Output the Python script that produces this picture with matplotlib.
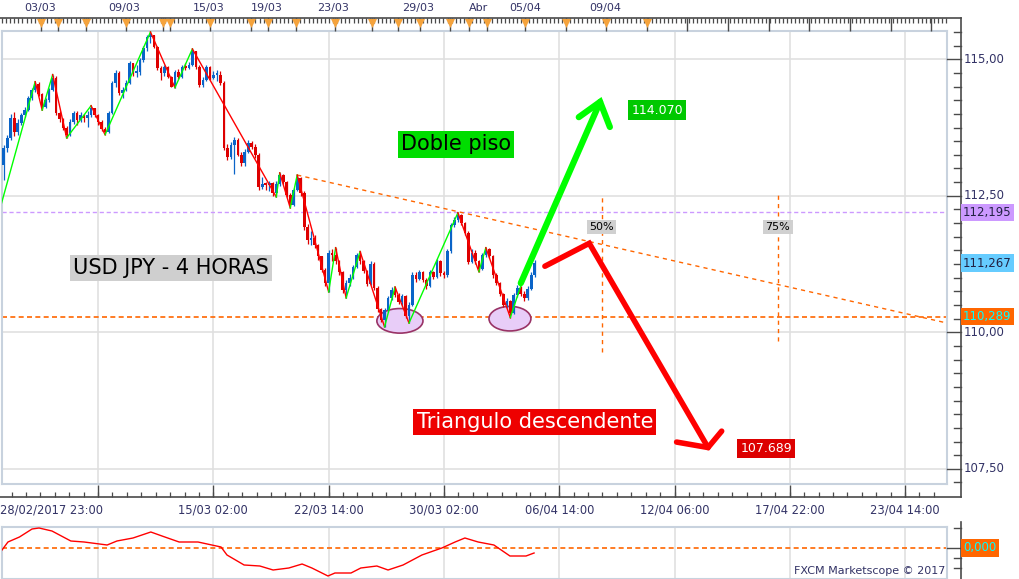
"""
USD/JPY 4H chart with double-bottom / descending-triangle annotations,
drawn in the style of a Marketscope screenshot.
"""
import matplotlib
matplotlib.use("Agg")
import matplotlib.pyplot as plt
import matplotlib.transforms as mtransforms
from matplotlib.patches import Ellipse
import numpy as np

W, H = 1019, 579
NAVY = "#333366"
BLUE = "#0a64c8"
RED = "#dd0000"
ORANGE = "#ff6600"
PURPLE = "#cc99ff"

# ---- candles (4h, index 0 = 28/02 23:00) ----
OPEN0 = 113.07
CLOSE = [113.38, 113.56, 113.93, 113.66, 113.84, 113.98, 114.08, 114.29, 114.44, 114.55,
         114.37, 114.12, 114.25, 114.44, 114.66, 114.02, 113.90, 113.75, 113.62, 113.85,
         114.02, 113.88, 113.98, 113.92, 113.98, 114.10, 113.98, 113.85, 113.72, 113.66,
         114.02, 114.57, 114.75, 114.39, 114.44, 114.57, 114.93, 114.75, 114.77, 114.99,
         115.21, 115.41, 115.45, 115.23, 114.84, 114.74, 114.86, 114.68, 114.49, 114.77,
         114.68, 114.86, 114.84, 114.90, 115.15, 114.86, 114.53, 114.62, 114.86, 114.66,
         114.72, 114.72, 114.57, 113.38, 113.21, 113.43, 113.53, 113.25, 113.10, 113.30,
         113.47, 113.40, 113.25, 112.66, 112.72, 112.70, 112.74, 112.55, 112.72, 112.88,
         112.76, 112.52, 112.34, 112.60, 112.82, 112.55, 111.93, 111.69, 111.72, 111.60,
         111.40, 111.14, 110.90, 111.46, 111.42, 111.30, 111.10, 110.78, 110.90, 111.00,
         111.20, 111.42, 111.30, 111.12, 110.88, 111.25, 110.82, 110.42, 110.22, 110.40,
         110.62, 110.78, 110.68, 110.56, 110.66, 110.30, 110.50, 111.05, 110.98, 111.10,
         110.96, 110.85, 111.10, 111.02, 111.30, 111.08, 111.05, 111.48, 111.96, 112.06,
         112.15, 112.00, 111.82, 111.29, 111.46, 111.30, 111.16, 111.42, 111.52, 111.40,
         111.05, 110.90, 110.70, 110.50, 110.58, 110.35, 110.69, 110.82, 110.70, 110.62,
         110.80, 111.05, 111.27]
HIGH = [113.43, 113.62, 114.00, 114.04, 113.90, 114.02, 114.12, 114.33, 114.48, 114.59,
        114.58, 114.38, 114.30, 114.48, 114.72, 114.70, 114.05, 113.93, 113.78, 113.90,
        114.06, 114.05, 114.03, 114.00, 114.05, 114.15, 114.10, 114.00, 113.88, 113.76,
        114.05, 114.60, 114.80, 114.78, 114.50, 114.62, 114.97, 114.92, 114.90, 115.03,
        115.25, 115.45, 115.50, 115.45, 115.25, 114.88, 114.90, 114.88, 114.70, 114.80,
        114.82, 114.90, 114.94, 114.95, 115.19, 115.10, 114.90, 114.68, 114.90, 114.88,
        114.78, 114.80, 114.78, 114.60, 113.45, 113.48, 113.58, 113.55, 113.30, 113.35,
        113.52, 113.50, 113.45, 113.28, 112.85, 112.76, 112.78, 112.76, 112.78, 112.92,
        112.90, 112.78, 112.55, 112.64, 112.88, 112.84, 112.58, 111.98, 111.85, 111.78,
        111.62, 111.40, 111.18, 111.50, 111.52, 111.55, 111.32, 111.12, 110.96, 111.06,
        111.24, 111.45, 111.48, 111.32, 111.14, 111.30, 111.28, 110.85, 110.44, 110.45,
        110.66, 110.83, 110.83, 110.72, 110.70, 110.68, 110.55, 111.10, 111.10, 111.14,
        111.12, 111.00, 111.14, 111.12, 111.34, 111.33, 111.12, 111.52, 112.00, 112.12,
        112.19, 112.16, 112.02, 111.85, 111.52, 111.50, 111.33, 111.46, 111.55, 111.54,
        111.42, 111.08, 110.92, 110.72, 110.62, 110.60, 110.72, 110.86, 110.85, 110.75,
        110.84, 111.10, 111.32]
LOW = [112.79, 113.30, 113.52, 113.60, 113.62, 113.80, 113.95, 114.05, 114.25, 114.40,
       114.33, 114.07, 114.10, 114.22, 114.42, 113.98, 113.85, 113.70, 113.56, 113.60,
       113.82, 113.80, 113.85, 113.86, 113.76, 113.95, 113.94, 113.80, 113.68, 113.62,
       113.65, 114.00, 114.50, 114.35, 114.30, 114.42, 114.55, 114.70, 114.68, 114.72,
       114.95, 115.15, 115.30, 115.20, 114.80, 114.62, 114.70, 114.65, 114.52, 114.48,
       114.64, 114.66, 114.80, 114.82, 114.88, 114.82, 114.50, 114.50, 114.60, 114.62,
       114.64, 114.60, 114.52, 113.33, 113.15, 113.18, 112.90, 113.22, 113.05, 113.05,
       113.28, 113.36, 113.20, 112.60, 112.62, 112.60, 112.58, 112.50, 112.48, 112.68,
       112.72, 112.48, 112.28, 112.32, 112.58, 112.50, 111.88, 111.62, 111.60, 111.55,
       111.33, 111.10, 110.85, 110.74, 111.30, 111.25, 111.05, 110.72, 110.63, 110.85,
       110.98, 111.18, 111.26, 111.08, 110.85, 110.86, 110.78, 110.38, 110.18, 110.10,
       110.38, 110.60, 110.64, 110.52, 110.48, 110.26, 110.17, 110.48, 110.92, 110.95,
       110.92, 110.80, 110.83, 110.98, 111.00, 111.04, 111.00, 111.02, 111.45, 111.92,
       112.02, 111.96, 111.78, 111.25, 111.27, 111.25, 111.11, 111.14, 111.38, 111.36,
       111.00, 110.86, 110.66, 110.46, 110.45, 110.27, 110.33, 110.65, 110.66, 110.58,
       110.60, 110.78, 111.02]

# zigzag swing points (candle index, price)
ZZ_IDX = [-1, 9, 11, 14, 18, 25, 29, 42, 49, 54, 78, 79, 82, 84, 93, 95, 98, 102,
          109, 112, 116, 130, 136, 138, 145, 148]
ZZ_PRICE = [112.28, 114.59, 114.07, 114.72, 113.56, 114.15, 113.62, 115.50, 114.48,
            115.19, 112.48, 112.92, 112.28, 112.88, 110.74, 111.55, 110.63, 111.48,
            110.10, 110.83, 110.17, 112.19, 111.11, 111.55, 110.27, 110.85]

# oscillator panel
IND_IDX = [-0.5, 1.2, 4.5, 8.1, 10.1, 13.8, 19.2, 23.0, 29.6, 32.4, 37.0, 42.1, 45.3,
           50.2, 55.6, 62.2, 63.9, 68.8, 73.3, 77.1, 81.6, 85.4, 88.2, 92.8, 94.8,
           99.4, 102.2, 106.8, 110.0, 114.3, 119.7, 125.4, 129.2, 132.0, 135.8,
           140.3, 144.9, 149.5, 151.8]
IND_VAL = [-0.2, 0.6, 1.1, 1.9, 2.0, 1.7, 0.7, 0.6, 0.3, 0.7, 1.0, 1.6, 1.2, 0.6, 0.6,
           0.1, -0.7, -1.7, -1.8, -2.2, -2.0, -1.6, -2.0, -2.8, -2.5, -2.5, -2.0, -1.8,
           -2.2, -1.7, -0.7, 0.0, 0.6, 1.0, 0.6, 0.3, -0.8, -0.8, -0.5]

# levels and drawings
RESIST = 112.195
SUPPORT = 110.289
LAST = 111.267
TREND_IDX = [84, 270]
TREND_PRICE = [112.88, 110.17]
FIB_IDX = [171.2, 221.6]
FIB_LOW = [109.64, 109.84]
FIB_LABELS = ["50%", "75%"]
GREEN_ARROW_IDX = [148.0, 170.7]
GREEN_ARROW_PRICE = [110.90, 114.22]
GREEN_HEAD_IDX = [164.6, 170.7, 173.5]
GREEN_HEAD_PRICE = [113.94, 114.22, 113.76]
RED_ARROW_IDX = [154.9, 167.6, 201.6]
RED_ARROW_PRICE = [111.21, 111.63, 107.89]
RED_HEAD_IDX = [192.6, 201.6, 205.5]
RED_HEAD_PRICE = [107.99, 107.89, 108.19]
BOTTOMS_IDX = [113.4, 144.9]
BOTTOMS_PRICE = [110.21, 110.25]
TARGET_UP = "114.070"
TARGET_DOWN = "107.689"

# time axes
GRID_IDX = [27, 60, 93, 126, 159, 192, 225, 258]
BOTTOM_LABELS = ["", "15/03 02:00", "22/03 14:00", "30/03 02:00", "06/04 14:00",
                 "12/04 06:00", "17/04 22:00", "23/04 14:00"]
TOP_LABEL_IDX = [10.4, 34.4, 58.7, 75.3, 94.2, 118.6, 135.9, 149.2, 172.1]
TOP_LABELS = ["03/03", "09/03", "15/03", "19/03", "23/03", "29/03", "Abr", "05/04", "09/04"]
EVENT_IDX = [10.7, 15.5, 23.5, 35.0, 45.6, 47.6, 59.0, 70.8, 75.6, 83.6, 94.8, 105.4,
             112.8, 119.1, 127.7, 133.2, 138.3, 149.2, 161.0, 172.4, 184.1]
DAY_IDX = [195.5, 207.3, 219.0, 230.5, 242.2, 253.9, 265.4]

plt.rcParams["font.family"] = "DejaVu Sans"

fig = plt.figure(figsize=(W / 100, H / 100), dpi=100, facecolor="white")
ax = fig.add_axes([2 / W, 1 - 484 / H, 945 / W, 453 / H])
axi = fig.add_axes([2 / W, 0, 945 / W, 52 / H])
ov = fig.add_axes([0, 0, 1, 1], zorder=10)
ov.set_xlim(0, W)
ov.set_ylim(H, 0)
ov.axis("off")

for a in (ax, axi):
    a.set_xlim(-0.5, 270)
    a.set_xticks(GRID_IDX)
    a.tick_params(length=0, labelbottom=False, labelleft=False)
    for s in a.spines.values():
        s.set_color("#c8d2de")
        s.set_linewidth(1.5)
ax.set_ylim(107.222, 115.518)
ax.set_yticks([107.5, 110.0, 112.5, 115.0])
ax.grid(True, color="#e0e0e0", lw=1.2, zorder=0)
axi.set_ylim(-3.1, 2.1)
axi.set_yticks([])
axi.grid(True, axis="x", color="#e0e0e0", lw=1.2, zorder=0)

# ---- candles ----
close = np.array(CLOSE)
opn = np.concatenate([[OPEN0], close[:-1]])
hi = np.maximum(np.array(HIGH), np.maximum(opn, close))
lo = np.minimum(np.array(LOW), np.minimum(opn, close))
idx = np.arange(len(close))
col = np.where(close >= opn, BLUE, RED)
ax.vlines(idx, lo, hi, colors=col, lw=0.9, zorder=3)
body = np.maximum(np.abs(close - opn), 0.03)
ax.bar(idx, body, bottom=np.minimum(opn, close), width=0.75, color=col, lw=0, zorder=3)

# zigzag
for k in range(len(ZZ_IDX) - 1):
    up = ZZ_PRICE[k + 1] > ZZ_PRICE[k]
    ax.plot(ZZ_IDX[k:k + 2], ZZ_PRICE[k:k + 2], color="#00ff00" if up else "#ff0000",
            lw=1.0, zorder=4)

# levels / trendline / fib verticals
ax.axhline(RESIST, color=PURPLE, ls=(0, (3, 2)), lw=1, zorder=2)
ax.axhline(SUPPORT, color=ORANGE, ls=(0, (3, 2)), lw=1.2, zorder=2)
ax.plot(TREND_IDX, TREND_PRICE, color=ORANGE, ls=(0, (3, 3)), lw=1, zorder=2)
for fx, flo, lab in zip(FIB_IDX, FIB_LOW, FIB_LABELS):
    ax.plot([fx, fx], [flo, 112.54], color=ORANGE, ls=(0, (3, 3)), lw=1, zorder=2)
    ax.text(fx, 111.93, lab, ha="center", va="center", fontsize=8, color="black",
            bbox=dict(boxstyle="square,pad=0.2", fc="#d0d0d0", ec="none"), zorder=6)

# double bottom ellipses
for bx, by, bw in zip(BOTTOMS_IDX, BOTTOMS_PRICE, [13.2, 12.0]):
    ax.add_patch(Ellipse((bx, by), bw, 0.45, fc="#e8cdf8", ec="#993366", lw=1.2, zorder=2.5))

# projection arrows
ax.plot(GREEN_ARROW_IDX, GREEN_ARROW_PRICE, color="#00ff00", lw=4.5,
        solid_capstyle="round", zorder=7)
ax.plot(GREEN_HEAD_IDX, GREEN_HEAD_PRICE, color="#00ff00", lw=4.5,
        solid_capstyle="round", solid_joinstyle="miter", zorder=7)
ax.plot(RED_ARROW_IDX, RED_ARROW_PRICE, color="#ff0000", lw=4,
        solid_capstyle="round", solid_joinstyle="miter", zorder=7)
ax.plot(RED_HEAD_IDX, RED_HEAD_PRICE, color="#ff0000", lw=4,
        solid_capstyle="round", solid_joinstyle="miter", zorder=7)

# text labels
ax.text(129.4, 113.44, "Doble piso", ha="center", va="center", fontsize=15,
        color="black", bbox=dict(boxstyle="square,pad=0.15", fc="#00dd00", ec="none"), zorder=8)
ax.text(47.9, 111.18, "USD JPY - 4 HORAS", ha="center", va="center", fontsize=15,
        color="black", bbox=dict(boxstyle="square,pad=0.15", fc="#cfcfcf", ec="none"), zorder=8)
ax.text(152.0, 108.36, "Triangulo descendente", ha="center", va="center", fontsize=15,
        color="white", bbox=dict(boxstyle="square,pad=0.15", fc="#ee0000", ec="none"), zorder=8)
ax.text(187.0, 114.07, TARGET_UP, ha="center", va="center", fontsize=9, color="white",
        bbox=dict(boxstyle="square,pad=0.25", fc="#00c800", ec="none"), zorder=8)
ax.text(218.2, 107.87, TARGET_DOWN, ha="center", va="center", fontsize=9, color="white",
        bbox=dict(boxstyle="square,pad=0.25", fc="#dd0000", ec="none"), zorder=8)

# ---- oscillator ----
axi.plot(IND_IDX, IND_VAL, color="#ff0000", lw=1, zorder=3)
axi.axhline(0, color=ORANGE, ls=(0, (3, 2)), lw=1.2, zorder=2)

# ---- axes frame, ticks and labels (pixel overlay) ----
tx = mtransforms.blended_transform_factory(ax.transData, ov.transData)
ty = mtransforms.blended_transform_factory(ov.transData, ax.transData)
tyi = mtransforms.blended_transform_factory(ov.transData, axi.transData)
dark = "#4a4a4a"

ov.plot([0, 961], [18, 18], color=dark, lw=1.2)
ov.plot([0, 961], [497, 497], color=dark, lw=1.2)
ov.plot([961, 961], [18, 497], color=dark, lw=1.2)
ov.plot([961, 961], [522, 579], color=dark, lw=1.2)

# top time strip
ov.vlines(np.arange(-0.5, 270, 1.17), 18, 23, colors=dark, lw=0.9, transform=tx)
ov.vlines(EVENT_IDX + DAY_IDX, 18, 31, colors=dark, lw=1, transform=tx)
ov.scatter(EVENT_IDX, [22.5] * len(EVENT_IDX), marker="v", s=42, color="#f5a33c",
           lw=0, transform=tx, zorder=12)
for x, lab in zip(TOP_LABEL_IDX, TOP_LABELS):
    ov.text(x, 8, lab, ha="center", va="center", fontsize=8, color=NAVY, transform=tx)

# bottom time strip
ov.vlines(np.arange(-6, 270, 33 / 8), 492, 497, colors=dark, lw=0.9, transform=tx)
ov.vlines(GRID_IDX, 485, 497, colors=dark, lw=1, transform=tx)
ov.text(0, 510, "28/02/2017 23:00", ha="left", va="center", fontsize=8.3, color=NAVY)
for x, lab in zip(GRID_IDX, BOTTOM_LABELS):
    if lab:
        ov.text(x, 510, lab, ha="center", va="center", fontsize=8.3, color=NAVY, transform=tx)

# price scale
for p in np.arange(107.25, 115.51, 0.25):
    major = abs(p / 2.5 - round(p / 2.5)) < 1e-6
    ov.plot([947 if major else 954, 961], [p, p], color=dark, lw=1, transform=ty)
    if major:
        ov.text(964, p, f"{p:.2f}".replace(".", ","), ha="left", va="center",
                fontsize=8.5, color=NAVY, transform=ty)

def _tag(y, text, fc, tc, tr):
    ov.text(963, y, text, ha="left", va="center", fontsize=8.5, color=tc, transform=tr,
            bbox=dict(boxstyle="square,pad=0.2", fc=fc, ec="none"), zorder=12)

_tag(RESIST, f"{RESIST:.3f}".replace(".", ","), PURPLE, "#222244", ty)
_tag(LAST, f"{LAST:.3f}".replace(".", ","), "#66ccff", "#222244", ty)
_tag(SUPPORT, f"{SUPPORT:.3f}".replace(".", ","), ORANGE, "#00ffff", ty)

for v in [2.0, 0.0, -1.0, -2.0]:
    ov.plot([947 if v == 0 else 954, 961], [v, v], color=dark, lw=1, transform=tyi)
_tag(0.0, "0,000", ORANGE, "#00ffff", tyi)

ov.text(945, 571, "FXCM Marketscope © 2017", ha="right", va="center", fontsize=8,
        color=NAVY, zorder=12)

fig.savefig("out.png", dpi=100, facecolor="white")
